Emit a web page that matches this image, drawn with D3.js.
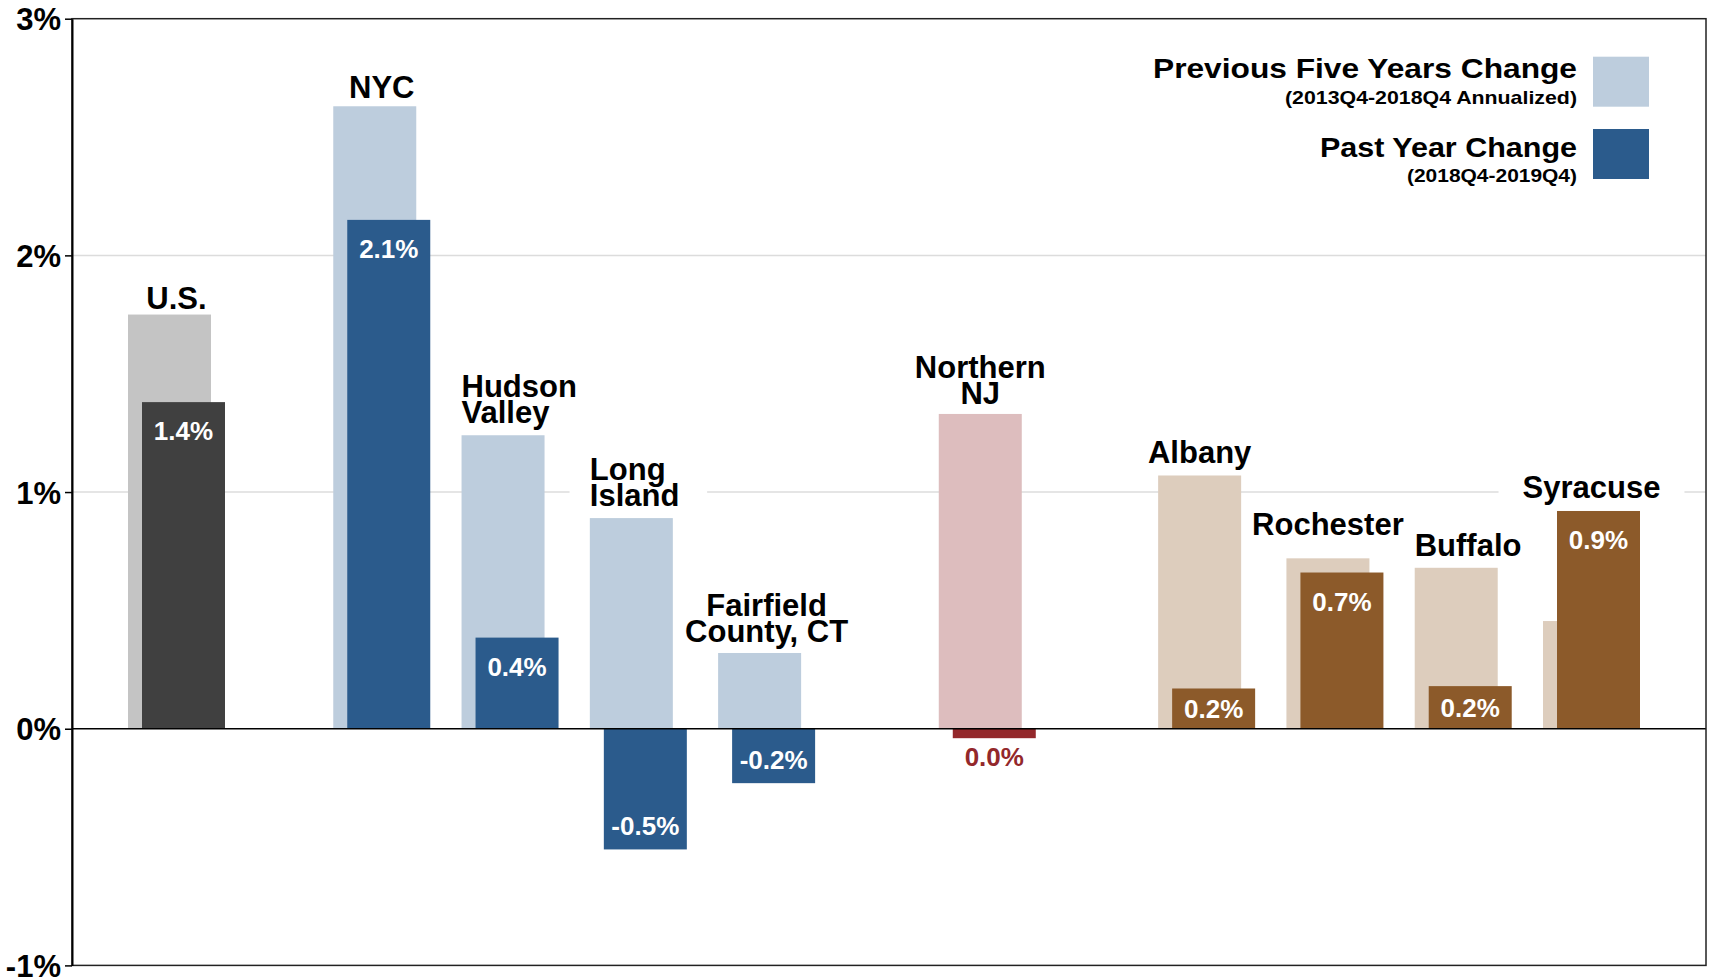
<!DOCTYPE html>
<html>
<head>
<meta charset="utf-8">
<script src="https://cdn.jsdelivr.net/npm/d3@7"></script>
<style>
  body { margin: 0; background: #fff; }
  text { font-family: "Liberation Sans", Arial, sans-serif; font-weight: bold; }
</style>
</head>
<body>
<div id="container"></div>
<script>
// data (percent change)
var regions = ["U.S.", "NYC", "Hudson\nValley", "Long\nIsland", "Fairfield\nCounty, CT",
               "Northern\nNJ", "Albany", "Rochester", "Buffalo", "Syracuse"];
var groups = ["us", "ny", "ny", "ny", "ny", "nj", "up", "up", "up", "up"];
var fiveYear = [1.75, 2.63, 1.24, 0.89, 0.32, 1.33, 1.07, 0.72, 0.68, 0.455];
var pastYear = [1.38, 2.15, 0.385, -0.51, -0.23, -0.04, 0.17, 0.66, 0.18, 0.92];
var yTicks = [-1, 0, 1, 2, 3];
var gridTicks = [1, 2];
var legendTitles = ["Previous Five Years Change", "Past Year Change"];
var legendSubs = ["(2013Q4-2018Q4 Annualized)", "(2018Q4-2019Q4)"];

// layout only : where each region sits, how its name is placed
var slots = [0, 1.6, 2.6, 3.6, 4.6, 6.32, 8.03, 9.03, 10.03, 11.03];
var labelAlign = ["pair", "pair", "start", "start", "pair", "light", "light", "light", "start", "pair"];
var labelGap = [6, 8, 12, 12, 11, 10, 12, 23, 12, 13];

var colors = {
  us: ["#c4c4c4", "#404040"],
  ny: ["#bdcddd", "#2b5b8c"],
  nj: ["#ddbdbe", "#93282b"],
  up: ["#ddcdbd", "#8c5a2a"]
};

var width = 1712, height = 979;
var plotLeft = 72, plotRight = 1706, plotTop = 18.7, plotBottom = 965.4;
var barW = 83, shift = 14;

var locale = d3.formatLocale({decimal: ".", thousands: ",", grouping: [3], currency: ["", ""], minus: "-"});
var fmt = locale.format(".1f");
var fmtInt = locale.format("d");

var svg = d3.select("#container")
    .append("svg")
    .attr("width", width)
    .attr("height", height);

var x = d3.scaleLinear().domain([0, 11.03]).range([128, 1543]);
var y = d3.scaleLinear().domain([-1, 3]).range([plotBottom, plotTop]);

// gridlines
svg.append("g").selectAll("line")
  .data(gridTicks)
  .enter().append("line")
    .attr("x1", plotLeft).attr("x2", plotRight)
    .attr("y1", d => y(d)).attr("y2", d => y(d))
    .attr("stroke", "#dcdcdc").attr("stroke-width", 1.5);

var bgG = svg.append("g");
var barG = svg.append("g");

var idx = d3.range(regions.length);

// previous five years (light) bars
barG.selectAll(".prev")
  .data(idx)
  .enter().append("rect")
    .attr("class", "prev")
    .attr("x", i => x(slots[i]))
    .attr("width", barW)
    .attr("y", i => y(Math.max(0, fiveYear[i])))
    .attr("height", i => Math.abs(y(fiveYear[i]) - y(0)))
    .attr("fill", i => colors[groups[i]][0]);

// past year (dark) bars
barG.selectAll(".past")
  .data(idx)
  .enter().append("rect")
    .attr("class", "past")
    .attr("x", i => x(slots[i]) + shift)
    .attr("width", barW)
    .attr("y", i => y(Math.max(0, pastYear[i])))
    .attr("height", i => Math.abs(y(pastYear[i]) - y(0)))
    .attr("fill", i => colors[groups[i]][1]);

// zero line
svg.append("line")
    .attr("x1", plotLeft).attr("x2", plotRight)
    .attr("y1", y(0)).attr("y2", y(0))
    .attr("stroke", "#000").attr("stroke-width", 1.5);

// value labels for past year
svg.append("g").selectAll("text")
  .data(idx)
  .enter().append("text")
    .attr("text-anchor", "middle")
    .attr("font-size", "26px")
    .attr("x", i => x(slots[i]) + shift + barW / 2)
    .attr("y", function(i) {
        var v = pastYear[i], h = Math.abs(y(v) - y(0));
        if (v >= 0) {
            if (h > 60) return y(v) + 38;
            if (h > 25) return (y(v) + y(0)) / 2 + 9.5;
            return y(v) - 8;
        }
        if (h > 25) return y(v) - 14;
        return y(v) + 28;
    })
    .attr("fill", function(i) {
        return Math.abs(y(pastYear[i]) - y(0)) > 25 ? "#fff" : colors[groups[i]][1];
    })
    .text(i => fmt(pastYear[i]) + "%");

// region names, with a white box behind them to break the gridlines
var labelG = svg.append("g");
idx.forEach(function(i) {
    var lines = regions[i].split("\n");
    var barTop = y(Math.max(fiveYear[i], pastYear[i], 0));
    var base = barTop - labelGap[i];
    var pairMid = x(slots[i]) + (barW + shift) / 2;
    var lx, anchor = "middle";
    if (labelAlign[i] == "pair") lx = pairMid;
    else if (labelAlign[i] == "light") lx = x(slots[i]) + barW / 2;
    else { lx = x(slots[i]); anchor = "start"; }

    var t = labelG.append("text")
        .attr("text-anchor", anchor)
        .attr("font-size", "31px")
        .attr("fill", "#000");
    lines.forEach(function(s, k) {
        t.append("tspan")
            .attr("x", lx)
            .attr("y", base - (lines.length - 1 - k) * 26)
            .text(s);
    });
    var bb = t.node().getBBox();
    var bw = bb.width + 48;
    bgG.append("rect")
        .attr("x", pairMid - bw / 2).attr("y", bb.y - 2)
        .attr("width", bw).attr("height", bb.height + 4)
        .attr("fill", "#fff");
});

// frame
svg.append("rect")
    .attr("x", plotLeft).attr("y", plotTop)
    .attr("width", plotRight - plotLeft).attr("height", plotBottom - plotTop)
    .attr("fill", "none")
    .attr("stroke", "#222").attr("stroke-width", 1.5);

// y axis
var axis = svg.append("g")
    .attr("transform", "translate(" + plotLeft + ",0)")
    .call(d3.axisLeft(y)
        .tickValues(yTicks)
        .tickFormat(d => fmtInt(d) + "%")
        .tickSize(7)
        .tickSizeOuter(0)
        .tickPadding(4));
axis.select(".domain").attr("stroke", "#000").attr("stroke-width", 2);
axis.selectAll(".tick line").attr("stroke", "#000").attr("stroke-width", 1.5);
axis.selectAll(".tick text")
    .attr("font-size", "31px")
    .attr("font-family", null)
    .attr("fill", "#000")
    .attr("dy", "0.36em");

// legend
var legend = svg.append("g");
var titleY = [78, 157], subY = [104, 182], swatchY = [56.7, 129];
var titleLen = [424, 257], subLen = [292, 170];
legendTitles.forEach(function(s, i) {
    legend.append("rect")
        .attr("x", 1593).attr("y", swatchY[i])
        .attr("width", 56).attr("height", 50)
        .attr("fill", colors.ny[i]);
    legend.append("text")
        .attr("x", 1577).attr("y", titleY[i])
        .attr("text-anchor", "end")
        .attr("font-size", "28px")
        .attr("textLength", titleLen[i])
        .attr("lengthAdjust", "spacingAndGlyphs")
        .text(s);
    legend.append("text")
        .attr("x", 1577).attr("y", subY[i])
        .attr("text-anchor", "end")
        .attr("font-size", "19px")
        .attr("textLength", subLen[i])
        .attr("lengthAdjust", "spacingAndGlyphs")
        .text(legendSubs[i]);
});
</script>
</body>
</html>
